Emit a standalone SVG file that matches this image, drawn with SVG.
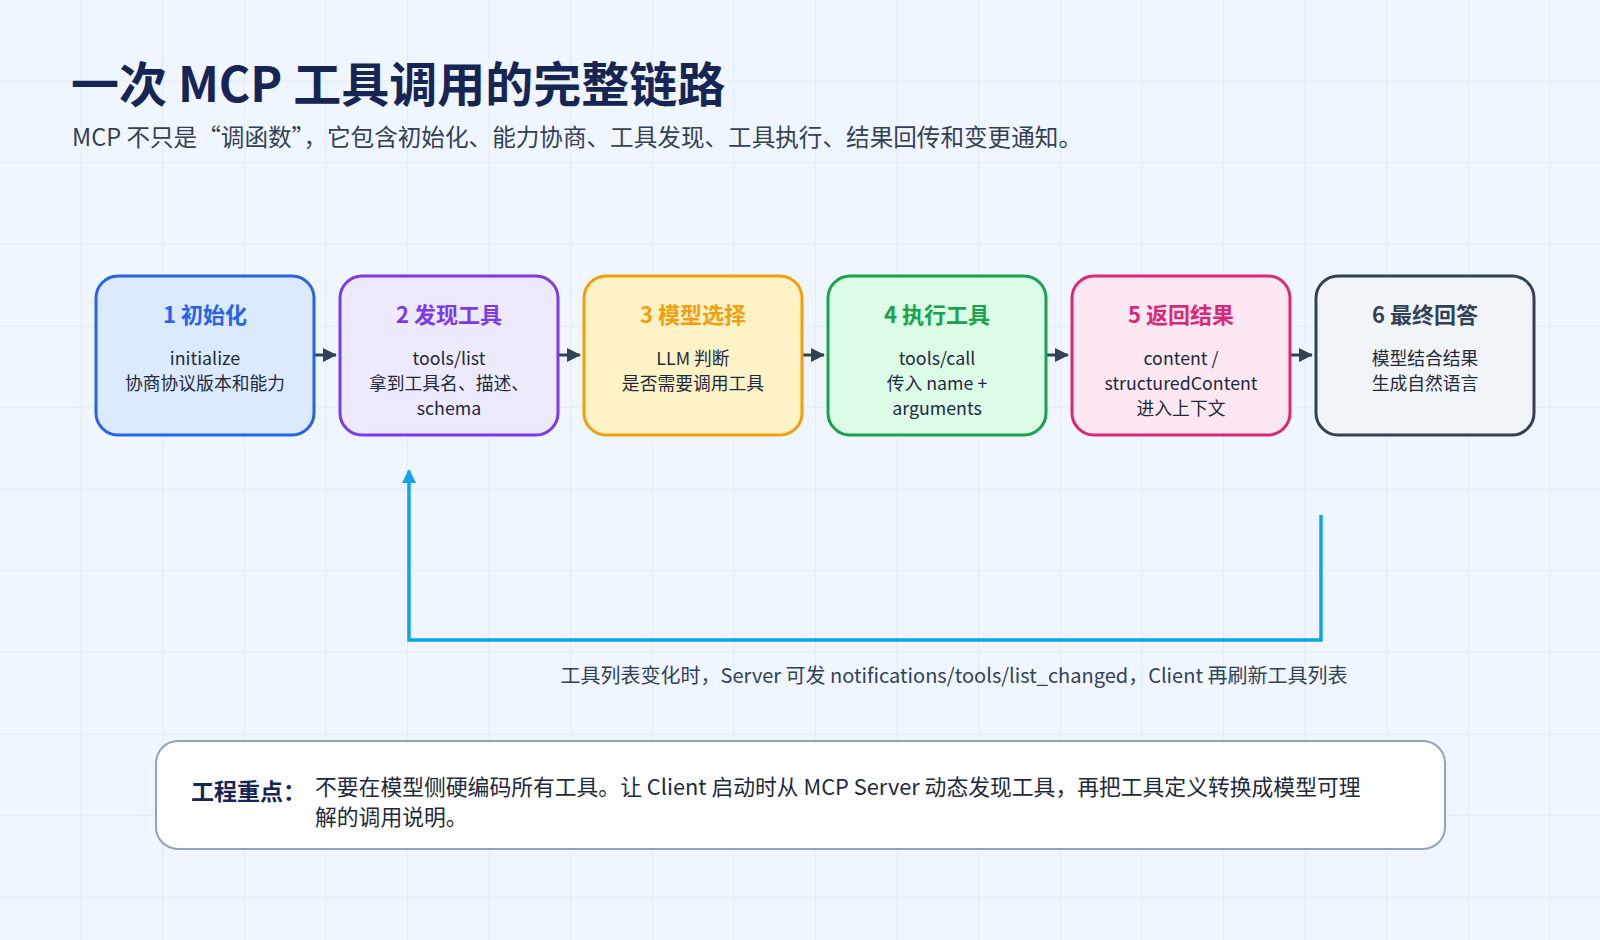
<svg xmlns="http://www.w3.org/2000/svg" width="1600" height="940" viewBox="0 0 1600 940">
<defs>
<pattern id="grid" width="81.6" height="81.6" patternUnits="userSpaceOnUse"><path d="M81.6 0V81.6M0 81.6H81.6" fill="none" stroke="#dfe7f1" stroke-width="1.5"/></pattern>
<marker id="ar" markerWidth="14" markerHeight="14" refX="13" refY="7" orient="auto" markerUnits="userSpaceOnUse"><path d="M0 0L14 7L0 14Z" fill="#334155"/></marker>
<marker id="ab" markerWidth="14" markerHeight="14" refX="12" refY="7" orient="auto" markerUnits="userSpaceOnUse"><path d="M0 0L14 7L0 14Z" fill="#0ea5e9"/></marker>
</defs>
<style>
text{font-family:"Noto Sans CJK SC","Noto Sans",sans-serif}
.t{font-size:22px;font-weight:700;text-anchor:middle}
.b{font-size:17.8px;fill:#1e293b;text-anchor:middle}
.n rect{stroke-width:3}
</style>
<rect width="1600" height="940" fill="#eff6ff"/>
<rect width="1600" height="940" fill="url(#grid)"/>
<text x="71" y="102" font-size="48" font-weight="700" fill="#172554">一次 MCP 工具调用的完整链路</text>
<text x="72" y="146" font-size="23.6" fill="#334155">MCP 不只是“调函数”，它包含初始化、能力协商、工具发现、工具执行、结果回传和变更通知。</text>
<g id="connectors" stroke="#334155" stroke-width="3" fill="none">
<path d="M315 355H336" marker-end="url(#ar)"/>
<path d="M559 355H580" marker-end="url(#ar)"/>
<path d="M803 355H824" marker-end="url(#ar)"/>
<path d="M1047 355H1068" marker-end="url(#ar)"/>
<path d="M1291 355H1312" marker-end="url(#ar)"/>
<path d="M1321 515V640H409V471" stroke="#0ea5e9" stroke-width="3.5" marker-end="url(#ab)"/>
</g>
<g id="n1" class="n"><rect x="96" y="276" width="218" height="159" rx="22" fill="#dbeafe" stroke="#2563eb"/><text class="t" x="205" y="323" fill="#2563eb">1 初始化</text><text class="b" x="205" y="365">initialize</text><text class="b" x="205" y="390">协商协议版本和能力</text></g>
<g id="n2" class="n"><rect x="340" y="276" width="218" height="159" rx="22" fill="#ede9fe" stroke="#7c3aed"/><text class="t" x="449" y="323" fill="#7c3aed">2 发现工具</text><text class="b" x="449" y="365">tools/list</text><text class="b" x="449" y="390">拿到工具名、描述、</text><text class="b" x="449" y="415">schema</text></g>
<g id="n3" class="n"><rect x="584" y="276" width="218" height="159" rx="22" fill="#fef3c7" stroke="#f59e0b"/><text class="t" x="693" y="323" fill="#f59e0b">3 模型选择</text><text class="b" x="693" y="365">LLM 判断</text><text class="b" x="693" y="390">是否需要调用工具</text></g>
<g id="n4" class="n"><rect x="828" y="276" width="218" height="159" rx="22" fill="#dcfce7" stroke="#16a34a"/><text class="t" x="937" y="323" fill="#16a34a">4 执行工具</text><text class="b" x="937" y="365">tools/call</text><text class="b" x="937" y="390">传入 name +</text><text class="b" x="937" y="415">arguments</text></g>
<g id="n5" class="n"><rect x="1072" y="276" width="218" height="159" rx="22" fill="#fce7f3" stroke="#db2777"/><text class="t" x="1181" y="323" fill="#db2777">5 返回结果</text><text class="b" x="1181" y="365">content /</text><text class="b" x="1181" y="390">structuredContent</text><text class="b" x="1181" y="415">进入上下文</text></g>
<g id="n6" class="n"><rect x="1316" y="276" width="218" height="159" rx="22" fill="#f1f5f9" stroke="#334155"/><text class="t" x="1425" y="323" fill="#334155">6 最终回答</text><text class="b" x="1425" y="365">模型结合结果</text><text class="b" x="1425" y="390">生成自然语言</text></g>
<text x="954" y="683" font-size="20" fill="#334155" text-anchor="middle">工具列表变化时，Server 可发 notifications/tools/list_changed，Client 再刷新工具列表</text>
<g id="note"><rect x="156" y="741" width="1289" height="108" rx="22" fill="#ffffff" stroke="#94a3b8" stroke-width="2"/>
<text x="191" y="800" font-size="23" font-weight="700" fill="#172554">工程重点：</text>
<text x="315" y="795" font-size="21.8" fill="#1e293b">不要在模型侧硬编码所有工具。让 Client 启动时从 MCP Server 动态发现工具，再把工具定义转换成模型可理</text>
<text x="315" y="825" font-size="21.8" fill="#1e293b">解的调用说明。</text></g>
</svg>
